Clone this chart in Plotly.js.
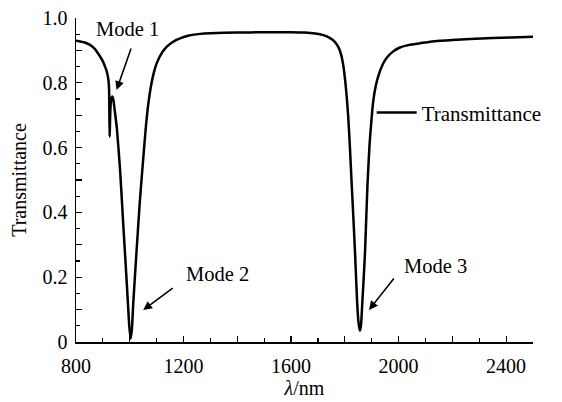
<!DOCTYPE html>
<html>
<head>
<meta charset="utf-8">
<script src="https://cdn.plot.ly/plotly-3.0.1.min.js"></script>
<style>
  html, body { margin: 0; padding: 0; background: #fff; }
  #chart { width: 562px; height: 402px; }
</style>
</head>
<body>
<div id="chart"></div>
<script>
// Transmission spectrum: wavelength (nm) and transmittance
const wavelength = [
  800, 830, 852, 870, 889, 900, 908, 914, 918, 921, 923, 924, 925, 926, 928, 931, 935, 939,
  944, 952, 964, 976, 989, 998, 1003, 1008, 1013, 1026, 1038, 1050, 1060, 1069, 1080, 1090,
  1100, 1120, 1137, 1160, 1187, 1220, 1261, 1300, 1400, 1500, 1600, 1650, 1690, 1720, 1745,
  1762, 1776, 1786, 1794, 1801, 1807, 1813, 1819, 1826, 1832, 1838, 1846, 1851, 1856, 1860,
  1865, 1870, 1875, 1884, 1892, 1900, 1906, 1915, 1925, 1940, 1956, 1980, 2005, 2040, 2080,
  2117, 2154, 2200, 2266, 2350, 2420, 2500
];
const transmittance = [
  0.930, 0.925, 0.917, 0.905, 0.882, 0.866, 0.850, 0.836, 0.822, 0.805, 0.780, 0.720, 0.634, 0.660, 0.720, 0.750, 0.758, 0.748,
  0.715, 0.660, 0.530, 0.360, 0.180, 0.050, 0.010, 0.040, 0.120, 0.290, 0.440, 0.565, 0.665, 0.735, 0.795, 0.833,
  0.860, 0.893, 0.911, 0.926, 0.937, 0.946, 0.951, 0.953, 0.955, 0.956, 0.956, 0.955, 0.952, 0.947, 0.938,
  0.927, 0.910, 0.888, 0.855, 0.810, 0.757, 0.690, 0.600, 0.480, 0.380, 0.275, 0.120, 0.060, 0.035, 0.050,
  0.120, 0.195, 0.275, 0.480, 0.610, 0.695, 0.745, 0.790, 0.822, 0.855, 0.877, 0.897, 0.909, 0.917, 0.922,
  0.927, 0.930, 0.932, 0.935, 0.938, 0.940, 0.942
];

// Axis ticks
const xTickVals = [800, 1000, 1200, 1400, 1600, 1800, 2000, 2200, 2400];
const xTickText = ['800', '', '1200', '', '1600', '', '2000', '', '2400'];
const yTickVals = [0, 0.1, 0.2, 0.3, 0.4, 0.5, 0.6, 0.7, 0.8, 0.9, 1.0];
const yTickText = ['0', '', '0.2', '', '0.4', '', '0.6', '', '0.8', '', '1.0'];

// Mode labels: text position and arrow tip (data coords), arrow tail offset (px)
const modeNames = ['Mode 1', 'Mode 2', 'Mode 3'];
const modeTextX = [993, 1325, 2139];
const modeTextY = [0.966, 0.21, 0.235];
const modeTipX = [951, 1050, 1890];
const modeTipY = [0.778, 0.099, 0.099];
const modeTailDX = [15, 31, 26];
const modeTailDY = [-43, -23, -33];

const serif = 'Liberation Serif, Times New Roman, serif';

const trace = {
  x: wavelength,
  y: transmittance,
  type: 'scatter',
  mode: 'lines',
  name: 'Transmittance',
  line: { color: '#000', width: 2.5, shape: 'spline', smoothing: 0.5 }
};

const annotations = [];
modeNames.forEach((name, i) => {
  annotations.push({
    x: modeTextX[i], y: modeTextY[i], xref: 'x', yref: 'y',
    text: name, showarrow: false,
    font: { family: serif, size: 20.5, color: '#000' }
  });
  annotations.push({
    x: modeTipX[i], y: modeTipY[i], xref: 'x', yref: 'y',
    text: '', showarrow: true,
    ax: modeTailDX[i], ay: modeTailDY[i],
    arrowhead: 2, arrowsize: 1.1, arrowwidth: 1.6, arrowcolor: '#000'
  });
});

const layout = {
  width: 562, height: 402,
  margin: { l: 76, r: 29, t: 18, b: 60 },
  paper_bgcolor: '#fff', plot_bgcolor: '#fff',
  font: { family: serif, size: 20, color: '#000' },
  showlegend: true,
  legend: {
    x: 0.647, y: 0.707, xanchor: 'left', yanchor: 'middle',
    itemwidth: 40,
    bgcolor: 'rgba(0,0,0,0)', borderwidth: 0,
    font: { family: serif, size: 21, color: '#000' }
  },
  xaxis: {
    range: [800, 2500],
    showgrid: false, zeroline: false,
    showline: true, linecolor: '#000', linewidth: 1.5, mirror: false,
    ticks: 'inside', ticklen: 6, tickwidth: 1.2, tickcolor: '#000',
    tickmode: 'array', tickvals: xTickVals, ticktext: xTickText,
    ticklabelstandoff: 5,
    tickfont: { family: serif, size: 20, color: '#000' },
    minor: { dtick: 100, ticks: 'inside', ticklen: 4, tickwidth: 1.2, tickcolor: '#000', showgrid: false },
    title: { text: '<i>λ</i>/nm', font: { family: serif, size: 20, color: '#000' }, standoff: 0 }
  },
  yaxis: {
    range: [0, 1.0],
    showgrid: false, zeroline: false,
    showline: true, linecolor: '#000', linewidth: 1.5, mirror: false,
    ticks: 'inside', ticklen: 6, tickwidth: 1.2, tickcolor: '#000',
    tickmode: 'array', tickvals: yTickVals, ticktext: yTickText,
    ticklabelstandoff: 3,
    tickfont: { family: serif, size: 20, color: '#000' },
    minor: { dtick: 0.05, ticks: 'inside', ticklen: 4, tickwidth: 1.2, tickcolor: '#000', showgrid: false },
    title: { text: 'Transmittance', font: { family: serif, size: 20, color: '#000' }, standoff: 10 }
  },
  annotations: annotations
};

Plotly.newPlot('chart', [trace], layout, { displayModeBar: false, staticPlot: true });
</script>
</body>
</html>
